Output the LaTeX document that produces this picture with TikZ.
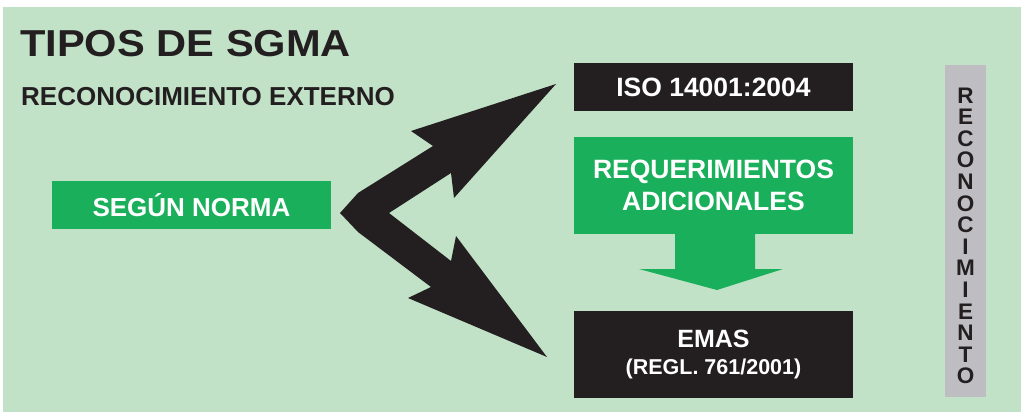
\documentclass[tikz,border=0pt]{standalone}
\usepackage{fontspec}
\setmainfont{Liberation Sans}
\newfontfamily\titlefont{Liberation Sans}[FakeStretch=1.11]
\definecolor{bgc}{HTML}{C2E2C8}
\definecolor{grn}{HTML}{1AAF5A}
\definecolor{blk}{HTML}{231F20}
\definecolor{gry}{HTML}{BDBDC2}
\begin{document}
\begin{tikzpicture}[x=1pt,y=-1pt,
  greenbox/.style={fill=grn,text=white,inner sep=0pt,font=\bfseries\fontsize{26}{32}\selectfont,align=center},
  blackbox/.style={fill=blk,text=white,inner sep=0pt,align=center},
  label/.style={text=blk,inner sep=0pt,anchor=base west},
  wlabel/.style={text=white,inner sep=0pt,anchor=base}]
\useasboundingbox (0,0) rectangle (1023,412);
\fill[bgc] (3,7) rectangle (1021,412);
% titles
\node[label,font=\titlefont\bfseries\fontsize{37.5}{40}\selectfont] (title) at (20,57) {TIPOS DE SGMA};
\node[label,font=\bfseries\fontsize{26}{30}\selectfont] (subtitle) at (21,105) {RECONOCIMIENTO EXTERNO};
% boxes
\node[greenbox,minimum width=279pt,minimum height=48pt] (segun) at (191.5,205) {SEGÚN NORMA};
\node[blackbox,minimum width=279pt,minimum height=48pt,font=\bfseries\fontsize{26.5}{30}\selectfont] (iso) at (713.5,87) {ISO 14001:2004};
\node[greenbox,minimum width=279pt,minimum height=97pt,font=\bfseries\fontsize{26.5}{32}\selectfont] (req) at (713.5,185.5) {REQUERIMIENTOS\\ADICIONALES};
\node[blackbox,minimum width=279pt,minimum height=87pt] (emas) at (713.5,354.5) {};
\node[wlabel,font=\bfseries\fontsize{25}{25}\selectfont] (emastxt) at (713.5,347) {EMAS};
\node[wlabel,font=\bfseries\fontsize{21.5}{21.5}\selectfont] (regl) at (713.5,374) {(REGL. 761/2001)};
\node[fill=gry,minimum width=41pt,minimum height=332pt,inner sep=0pt] (bar) at (965.5,231) {};
\node[text=blk,inner sep=0pt,align=center,anchor=north,font=\bfseries\fontsize{22.5}{21.6}\selectfont] (vert) at (965.5,87.5)
  {R\\E\\C\\O\\N\\O\\C\\I\\M\\I\\E\\N\\T\\O};
% down arrow
\fill[grn] (675,233) -- (755,233) -- (755,269) -- (783,269) -- (717,290) -- (639,269) -- (675,269) -- cycle;
% zigzag double arrow
\fill[blk] (340,213) -- (358,193) -- (433,146) -- (411,131) -- (556,84) -- (454,198) -- (451,173)
  -- (389,213) -- (451,261) -- (456,236) -- (547,357) -- (408,298) -- (431,287) -- (358,232) -- cycle;
\end{tikzpicture}
\end{document}
